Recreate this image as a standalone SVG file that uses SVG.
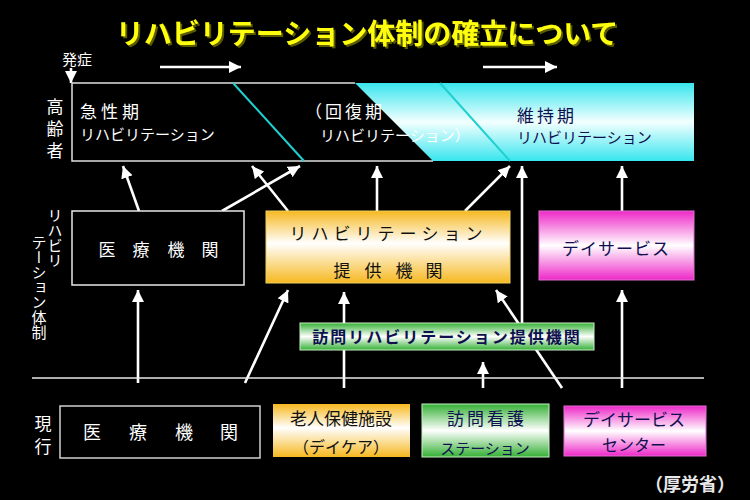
<svg xmlns="http://www.w3.org/2000/svg" width="750" height="500" viewBox="0 0 750 500">
<defs>
<style>
text{font-family:"Noto Sans CJK JP","Noto Sans CJK SC",sans-serif;}
.w{fill:#ffffff;}
.n{fill:#101050;}
.k{fill:#111111;}
.ln{stroke:#ffffff;stroke-width:2.6;fill:none;marker-end:url(#ah);}
</style>
<filter id="sh" x="-5%" y="-20%" width="110%" height="150%">
<feDropShadow dx="2" dy="2" stdDeviation="0.6" flood-color="#5a5a00" flood-opacity="1"/>
</filter>
<marker id="ah" markerUnits="userSpaceOnUse" markerWidth="13" markerHeight="12" refX="12" refY="6" orient="auto">
<path d="M0,0 L12,6 L0,12 z" fill="#ffffff"/>
</marker>
<linearGradient id="gc" x1="0" y1="0" x2="0" y2="1">
<stop offset="0" stop-color="#38e6ee"/><stop offset="0.5" stop-color="#f4ffff"/><stop offset="1" stop-color="#38e6ee"/>
</linearGradient>
<linearGradient id="go" x1="0" y1="0" x2="0" y2="1">
<stop offset="0" stop-color="#f6b820"/><stop offset="0.45" stop-color="#ffffff"/><stop offset="1" stop-color="#f6b820"/>
</linearGradient>
<linearGradient id="gp" x1="0" y1="0" x2="0" y2="1">
<stop offset="0" stop-color="#ee28c8"/><stop offset="0.5" stop-color="#ffffff"/><stop offset="1" stop-color="#ee28c8"/>
</linearGradient>
<linearGradient id="gg" x1="0" y1="0" x2="0" y2="1">
<stop offset="0" stop-color="#34b034"/><stop offset="0.5" stop-color="#ffffff"/><stop offset="1" stop-color="#34b034"/>
</linearGradient>
</defs>
<rect x="0" y="0" width="750" height="500" fill="#000000"/>

<g id="title">
<text x="367" y="44" text-anchor="middle" font-size="28" font-weight="700" fill="#ffff10" filter="url(#sh)">リハビリテーション体制の確立について</text>
</g>

<g id="labels">
<text class="w" x="62" y="65" font-size="15">発症</text>
<text class="w" font-size="17" x="55 55 55" y="113 135 157" text-anchor="middle">高齢者</text>
<text class="w" font-size="15" x="55" y="208" style="writing-mode:vertical-rl">リハビリ</text>
<text class="w" font-size="15" x="39" y="235" style="writing-mode:vertical-rl">テーション体制</text>
<text class="w" font-size="17" x="43 43" y="430 453" text-anchor="middle">現行</text>
<text x="690" y="491" text-anchor="middle" font-size="18" font-weight="700" fill="#e8e8e8">（厚労省）</text>
</g>

<g id="connectors">
<line class="ln" x1="160" y1="67" x2="241" y2="67"/>
<line class="ln" x1="483" y1="67" x2="557" y2="67"/>
<line class="ln" x1="71" y1="68" x2="71" y2="83"/>
<line class="ln" x1="139" y1="211" x2="123" y2="166"/>
<line class="ln" x1="222" y1="211" x2="300" y2="166"/>
<line class="ln" x1="288" y1="211" x2="252" y2="166"/>
<line class="ln" x1="377" y1="211" x2="377" y2="166"/>
<line class="ln" x1="465" y1="211" x2="510" y2="166"/>
<line class="ln" x1="522" y1="340" x2="522" y2="166"/>
<line class="ln" x1="622" y1="211" x2="622" y2="166"/>
<line class="ln" x1="138" y1="383" x2="138" y2="290"/>
<line class="ln" x1="245" y1="383" x2="288" y2="290"/>
<line class="ln" x1="344" y1="388" x2="344" y2="292"/>
<line class="ln" x1="562" y1="388" x2="496" y2="290"/>
<line class="ln" x1="483" y1="388" x2="483" y2="362"/>
<line class="ln" x1="622" y1="388" x2="622" y2="290"/>
<line x1="32" y1="378" x2="704" y2="378" stroke="#e8e8e8" stroke-width="1.5"/>
</g>

<g id="phase-band">
<rect x="72" y="83" width="622" height="78" fill="url(#gc)"/>
<polygon points="72,83 355,83 433,161 72,161" fill="#000000"/>
<polyline points="355,83 72,83 72,161 433,161" fill="none" stroke="#e0e0e0" stroke-width="1.5"/>
<line x1="233" y1="83" x2="304" y2="161" stroke="#20d0d0" stroke-width="2"/>
<line x1="440" y1="83" x2="510" y2="161" stroke="#20d0d0" stroke-width="2"/>
<text class="w" x="80" y="118" font-size="17" letter-spacing="4">急性期</text>
<text class="w" x="80" y="140" font-size="15">リハビリテーション</text>
<text class="w" x="305" y="118" font-size="17" letter-spacing="3">（回復期</text>
<text class="w" x="320" y="141" font-size="15">リハビリテーション）</text>
<text class="n" x="517" y="122" font-size="17" letter-spacing="3">維持期</text>
<text class="n" x="517" y="143" font-size="15">リハビリテーション</text>
</g>

<g id="iryo-mid">
<rect x="72" y="211" width="172" height="74" fill="#000000" stroke="#e8e8e8" stroke-width="1.5"/>
<text class="w" font-size="17" x="107 141 176 210" y="256" text-anchor="middle">医療機関</text>
</g>

<g id="rehab-provider">
<rect x="266" y="211" width="244" height="72" fill="url(#go)" stroke="#f0d060" stroke-width="1"/>
<text class="k" font-size="17" x="298 320 342 364 386 408 430 452 474" y="240" text-anchor="middle">リハビリテーション</text>
<text class="k" font-size="17" x="342 373 404 434" y="277" text-anchor="middle">提供機関</text>
</g>

<g id="dayservice-mid">
<rect x="539" y="211" width="155" height="69" fill="url(#gp)" stroke="#e070d0" stroke-width="1"/>
<text class="n" x="616" y="255" font-size="17" text-anchor="middle" letter-spacing="1">デイサービス</text>
</g>

<g id="houmon-rehab">
<rect x="300" y="323" width="294" height="27" fill="url(#gg)" stroke="#c8f0c8" stroke-width="1"/>
<text class="n" x="447" y="343" font-size="16" font-weight="700" text-anchor="middle" letter-spacing="2">訪問リハビリテーション提供機関</text>
</g>

<g id="iryo-now">
<rect x="60" y="406" width="200" height="52" fill="#000000" stroke="#d0d0d0" stroke-width="1.5"/>
<text class="w" font-size="18" x="92 138 184 229" y="439" text-anchor="middle">医療機関</text>
</g>

<g id="roujin">
<rect x="273" y="404" width="137" height="53" fill="url(#go)"/>
<text class="k" x="341" y="425" font-size="17" text-anchor="middle">老人保健施設</text>
<text class="k" x="341" y="453" font-size="16" text-anchor="middle">（デイケア）</text>
</g>

<g id="houmon-kango">
<rect x="422" y="404" width="127" height="53" fill="url(#gg)" stroke="#c8f0c8" stroke-width="1"/>
<text class="n" x="487" y="425" font-size="17" text-anchor="middle" letter-spacing="3">訪問看護</text>
<text class="n" x="485" y="454" font-size="15" text-anchor="middle">ステーション</text>
</g>

<g id="dayservice-center">
<rect x="564" y="406" width="142" height="50" fill="url(#gp)" stroke="#e070d0" stroke-width="1"/>
<text class="n" x="634" y="426" font-size="17" text-anchor="middle">デイサービス</text>
<text class="n" x="634" y="451" font-size="16" text-anchor="middle">センター</text>
</g>
</svg>
